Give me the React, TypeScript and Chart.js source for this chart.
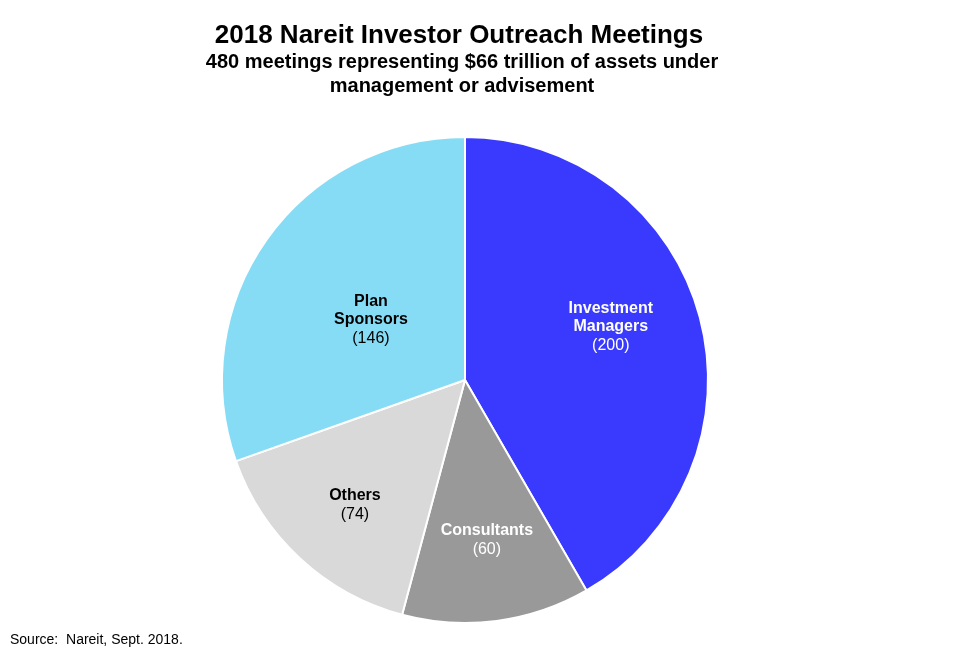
import React, { useEffect, useRef } from "react";
import { Chart, registerables } from "chart.js";

Chart.register(...registerables);

const categories = ["Investment Managers", "Consultants", "Others", "Plan Sponsors"];
const labelLines = [["Investment", "Managers"], ["Consultants"], ["Others"], ["Plan", "Sponsors"]];
const values = [200, 60, 74, 146];
const colors = ["#3a3aff", "#999999", "#d9d9d9", "#87dcf5"];
const labelColors = ["#ffffff", "#ffffff", "#000000", "#000000"];
// label centre offsets, as fractions of the pie radius
const labelOffsets = [
  [0.6, -0.218],
  [0.09, 0.658],
  [-0.453, 0.514],
  [-0.387, -0.247],
];

const titleText = "2018 Nareit Investor Outreach Meetings";
const subtitleLines = ["480 meetings representing $66 trillion of assets under", "management or advisement"];
const sourceText = "Source:  Nareit, Sept. 2018.";

const FONT = "Arial, 'Liberation Sans', sans-serif";

const textPlugin = {
  id: "textPlugin",
  afterDatasetsDraw(chart: any) {
    const ctx = chart.ctx;
    ctx.save();
    ctx.textAlign = "center";
    ctx.textBaseline = "middle";
    ctx.fillStyle = "#000";
    ctx.font = `bold 26px ${FONT}`;
    ctx.fillText(titleText, 459, 36);
    ctx.font = `bold 20px ${FONT}`;
    ctx.fillText(subtitleLines[0], 462, 62);
    ctx.fillText(subtitleLines[1], 462, 86);

    ctx.textAlign = "left";
    ctx.font = `14px ${FONT}`;
    ctx.fillText(sourceText, 10, 640);

    const meta = chart.getDatasetMeta(0);
    meta.data.forEach((arc: any, i: number) => {
      const p = arc.getProps(["x", "y", "outerRadius"], true);
      const cx = p.x + labelOffsets[i][0] * p.outerRadius;
      const cy = p.y + labelOffsets[i][1] * p.outerRadius;
      const lines = labelLines[i];
      const total = lines.length + 1;
      const lh = 18.5;
      const y0 = cy - ((total - 1) * lh) / 2;
      ctx.textAlign = "center";
      ctx.fillStyle = labelColors[i];
      ctx.font = `bold 16px ${FONT}`;
      lines.forEach((ln, j) => ctx.fillText(ln, cx, y0 + j * lh));
      ctx.font = `16px ${FONT}`;
      ctx.fillText(`(${values[i]})`, cx, y0 + lines.length * lh);
    });
    ctx.restore();
  },
};

export default function App() {
  const ref = useRef<HTMLCanvasElement>(null);
  useEffect(() => {
    const chart = new Chart(ref.current!, {
      type: "pie",
      data: {
        labels: categories,
        datasets: [
          {
            data: values,
            backgroundColor: colors,
            borderColor: "#ffffff",
            borderWidth: 2,
          },
        ],
      },
      options: {
        animation: false,
        responsive: false,
        maintainAspectRatio: false,
        layout: { padding: { top: 136, bottom: 39, left: 221, right: 266 } },
        plugins: {
          legend: { display: false },
          tooltip: { enabled: false },
          title: { display: false },
        },
      },
      plugins: [textPlugin],
    });
    return () => chart.destroy();
  }, []);
  return (
    <div style={{ position: "fixed", left: 0, top: 0, width: 975, height: 663, background: "#fff" }}>
      <canvas ref={ref} width={975} height={663} style={{ width: 975, height: 663 }} />
    </div>
  );
}
